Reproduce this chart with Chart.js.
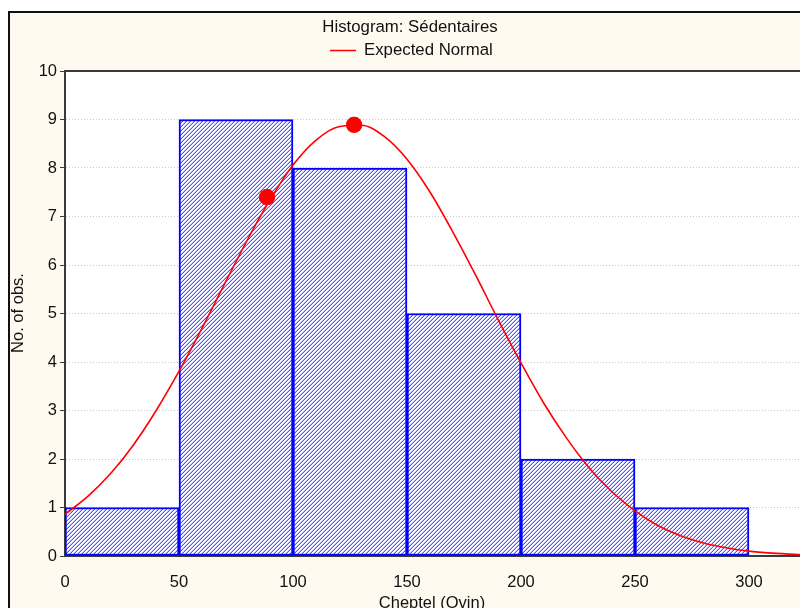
<!DOCTYPE html>
<html>
<head>
<meta charset="utf-8">
<script src="https://cdn.jsdelivr.net/npm/chart.js@4"></script>
<style>
  html, body { margin: 0; padding: 0; overflow: hidden; background: #fff; }
  #wrap { width: 800px; height: 608px; overflow: hidden; }
</style>
</head>
<body>
<div id="wrap"><canvas id="chart" width="860" height="640"></canvas></div>
<script>
  // histogram bins (Cheptel ovin)
  const binStart = [0, 50, 100, 150, 200, 250];
  const binCount = [1, 9, 8, 5, 2, 1];
  const binWidth = 50;

  // expected normal curve, every 10 units
  const curveX = [0, 10, 20, 30, 40, 50, 60, 70, 80, 90, 100, 110, 120, 130, 140, 150, 160,
    170, 180, 190, 200, 210, 220, 230, 240, 250, 260, 270, 280, 290, 300, 310, 320, 330, 340];
  const curveY = [0.86, 1.23, 1.70, 2.29, 3.00, 3.81, 4.69, 5.61, 6.52, 7.35, 8.06, 8.57, 8.85,
    8.88, 8.65, 8.18, 7.51, 6.69, 5.80, 4.87, 3.98, 3.15, 2.43, 1.81, 1.32, 0.93, 0.63, 0.42,
    0.27, 0.17, 0.10, 0.06, 0.035, 0.02, 0.01];

  // red markers on the curve
  const markX = [88.6, 126.8];
  const markY = [7.40, 8.89];

  const font = 'Liberation Sans, Arial, sans-serif';

  function hatch() {
    const c = document.createElement('canvas');
    c.width = 4; c.height = 4;
    const g = c.getContext('2d');
    g.fillStyle = '#ffffff';
    g.fillRect(0, 0, 4, 4);
    for (let x = 0; x < 4; x++) {
      for (let y = 0; y < 4; y++) {
        const d = (x + y) % 4;
        if (d === 3) { g.fillStyle = '#5050ff'; g.fillRect(x, y, 1, 1); }
        if (d === 2) { g.fillStyle = '#c0c0ff'; g.fillRect(x, y, 1, 1); }
      }
    }
    return g.createPattern(c, 'repeat');
  }

  const frame = {
    id: 'frame',
    beforeDraw(chart) {
      const ctx = chart.ctx, W = chart.width, H = chart.height, a = chart.chartArea;
      ctx.save();
      ctx.fillStyle = '#ffffff';
      ctx.fillRect(0, 0, W, H);
      ctx.fillStyle = '#fffaef';
      ctx.fillRect(9, 12, W, H);
      ctx.fillStyle = '#111111';
      ctx.fillRect(8, 11, 2, H);
      ctx.fillRect(8, 11, W, 2);
      ctx.fillStyle = '#ffffff';
      ctx.fillRect(a.left, a.top, a.right - a.left, a.bottom - a.top);
      ctx.restore();
    },
    afterDatasetsDraw(chart) {
      // keep the red markers above the hatched bars
      const meta = chart.getDatasetMeta(2);
      meta.data.forEach(p => p.draw(chart.ctx, chart.chartArea));
    },
    afterDraw(chart) {
      const ctx = chart.ctx, a = chart.chartArea;
      ctx.save();
      ctx.fillStyle = '#3a3a3a';
      ctx.fillRect(a.left - 1, a.top - 1, a.right - a.left + 2, 2);
      ctx.fillStyle = '#111111';
      ctx.textBaseline = 'middle';
      ctx.font = '16.8px ' + font;
      ctx.textAlign = 'center';
      ctx.fillText('Histogram: Sédentaires', 410, 27);
      ctx.textAlign = 'left';
      ctx.fillText('Expected Normal', 364, 50);
      ctx.strokeStyle = '#ff0000';
      ctx.lineWidth = 1.5;
      ctx.beginPath();
      ctx.moveTo(330, 50.5);
      ctx.lineTo(356, 50.5);
      ctx.stroke();
      ctx.font = '16.5px ' + font;
      ctx.textAlign = 'center';
      ctx.fillText('Cheptel (Ovin)', 432, 603);
      ctx.translate(18, 313);
      ctx.rotate(-Math.PI / 2);
      ctx.fillText('No. of obs.', 0, 0);
      ctx.restore();
    }
  };

  const chart = new Chart(document.getElementById('chart'), {
    data: {
      datasets: [
        {
          type: 'bar',
          data: binStart.map((s, i) => ({ x: s + binWidth / 2, y: binCount[i] })),
          backgroundColor: hatch(),
          borderColor: '#0000ff',
          borderWidth: 2,
          borderSkipped: false,
          barPercentage: 1,
          categoryPercentage: 1,
          grouped: false,
          order: 3
        },
        {
          type: 'line',
          data: curveX.map((x, i) => ({ x: x, y: curveY[i] })),
          borderColor: '#ff0000',
          borderWidth: 1.6,
          pointRadius: 0,
          cubicInterpolationMode: 'monotone',
          order: 2
        },
        {
          type: 'line',
          showLine: false,
          data: markX.map((x, i) => ({ x: x, y: markY[i] })),
          backgroundColor: '#ff0000',
          borderColor: '#ff0000',
          borderWidth: 0,
          pointRadius: 8,
          order: 1
        }
      ]
    },
    options: {
      responsive: false,
      devicePixelRatio: 1,
      animation: false,
      layout: { padding: { left: 0, top: 71, right: 19.8, bottom: 0 } },
      plugins: { legend: { display: false }, tooltip: { enabled: false } },
      scales: {
        x: {
          type: 'linear',
          offset: false,
          min: 0,
          max: 340,
          ticks: { stepSize: 50, includeBounds: false, padding: 9, color: '#111', font: { family: font, size: 16.5 } },
          grid: { display: false },
          border: { display: true, color: '#3a3a3a', width: 2 },
          afterFit(s) { s.height = 84; s.paddingLeft = 0; s.paddingRight = 0; }
        },
        y: {
          min: 0,
          max: 10,
          ticks: { stepSize: 1, padding: 3, color: '#111', font: { family: font, size: 16.5 } },
          grid: { color: '#c8c8c8', tickColor: '#3a3a3a', tickLength: 5, lineWidth: 1 },
          border: { display: true, color: '#3a3a3a', width: 2, dash: [1, 2] },
          afterFit(s) { s.width = 65; s.paddingTop = 0; s.paddingBottom = 0; }
        }
      }
    },
    plugins: [frame]
  });
</script>
</body>
</html>
